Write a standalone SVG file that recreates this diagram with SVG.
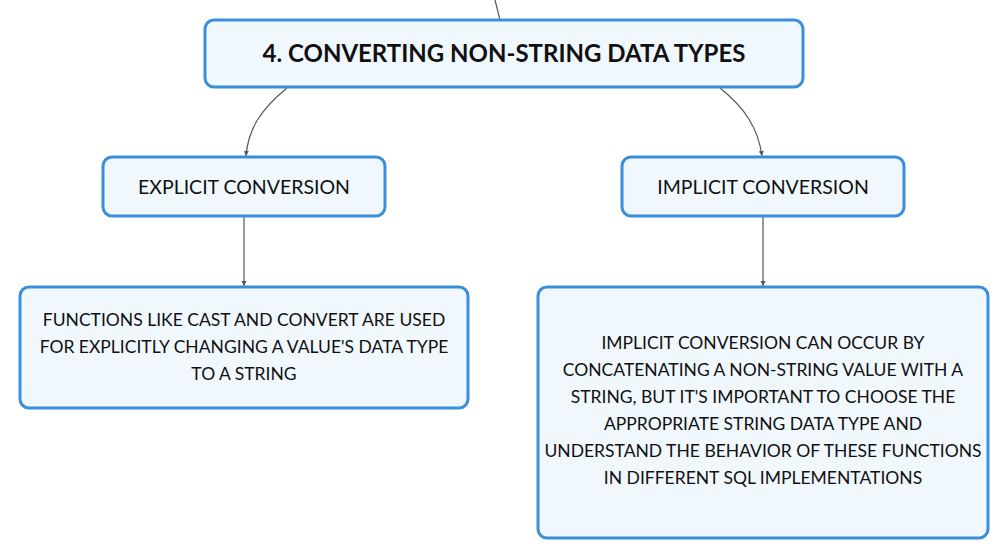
<svg xmlns="http://www.w3.org/2000/svg" width="1008" height="558" viewBox="0 0 1008 558">
<defs>
<style>
.box{fill:#f0f7fd;stroke:#3a8fdc;stroke-width:3}
.t{font-family:Lato,"Open Sans",sans-serif;fill:#111;text-anchor:middle}
.title{font-size:24px;font-weight:bold}
.sub{font-size:19.5px}
.body{font-size:17.5px}
.c{fill:none;stroke:#555;stroke-width:1.2}
</style>
<marker id="ah" markerWidth="6" markerHeight="6" refX="5" refY="3" orient="auto" markerUnits="userSpaceOnUse">
<path d="M0,0.5 L5,3 L0,5.5 z" fill="#555"/>
</marker>
</defs>
<rect width="1008" height="558" fill="#fff"/>
<g id="connectors">
<path class="c" d="M495,0 L500,20"/>
<path class="c" d="M287,88 C260,110 248,130 246,156" marker-end="url(#ah)"/>
<path class="c" d="M720,88 C745,108 758,128 762,156" marker-end="url(#ah)"/>
<path class="c" d="M244,217 L244,286" marker-end="url(#ah)"/>
<path class="c" d="M763,217 L763,286" marker-end="url(#ah)"/>
</g>
<g id="root">
<rect class="box" x="205" y="20" width="598" height="67" rx="9"/>
<text class="t title" x="504" y="62">4. CONVERTING NON-STRING DATA TYPES</text>
</g>
<g id="explicit">
<rect class="box" x="103" y="157" width="282" height="59" rx="9"/>
<text class="t sub" x="244" y="194">EXPLICIT CONVERSION</text>
</g>
<g id="implicit">
<rect class="box" x="622" y="157" width="282" height="59" rx="9"/>
<text class="t sub" x="763" y="194">IMPLICIT CONVERSION</text>
</g>
<g id="explicit-detail">
<rect class="box" x="20" y="287" width="448" height="121" rx="9"/>
<text class="t body" x="244" y="326">FUNCTIONS LIKE CAST AND CONVERT ARE USED</text>
<text class="t body" x="244" y="353">FOR EXPLICITLY CHANGING A VALUE'S DATA TYPE</text>
<text class="t body" x="244" y="380">TO A STRING</text>
</g>
<g id="implicit-detail">
<rect class="box" x="538" y="287" width="450" height="251" rx="9"/>
<text class="t body" x="763" y="349">IMPLICIT CONVERSION CAN OCCUR BY</text>
<text class="t body" x="763" y="376">CONCATENATING A NON-STRING VALUE WITH A</text>
<text class="t body" x="763" y="403">STRING, BUT IT'S IMPORTANT TO CHOOSE THE</text>
<text class="t body" x="763" y="430">APPROPRIATE STRING DATA TYPE AND</text>
<text class="t body" x="763" y="457">UNDERSTAND THE BEHAVIOR OF THESE FUNCTIONS</text>
<text class="t body" x="763" y="484">IN DIFFERENT SQL IMPLEMENTATIONS</text>
</g>
</svg>
